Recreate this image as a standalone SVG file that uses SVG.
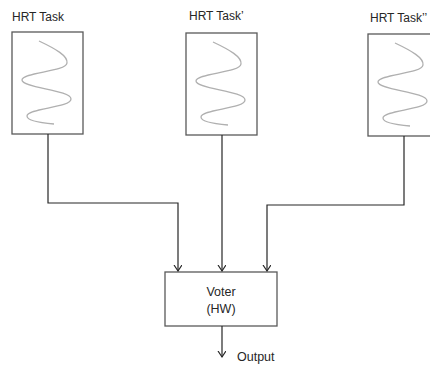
<svg xmlns="http://www.w3.org/2000/svg" width="430" height="365" viewBox="0 0 430 365">
<style>
.box{fill:#fff;stroke:#595959;stroke-width:1.3}
.wave{fill:none;stroke:#b0b0b0;stroke-width:1.3}
.lbl{font-family:"Liberation Sans",Arial,sans-serif;font-size:12px;fill:#262626}
.txt{font-family:"Liberation Sans",Arial,sans-serif;font-size:12.5px;fill:#262626}
.conn{fill:none;stroke:#262626;stroke-width:1.2}
</style>
<defs>
<marker id="arr" markerUnits="userSpaceOnUse" markerWidth="10" markerHeight="10" refX="6" refY="4" orient="auto" viewBox="0 0 10 10">
<path d="M0,0 L6,4 L0,8" fill="none" stroke="#262626" stroke-width="1.2"/>
</marker>
<path id="wv" d="M27,9 C44,17 56,24 55,31 C54,40 10,40 10,48 C10,56 59,58 59,67 C59,76 15,76 15,84 C15,89 30,91 42,92"/>
</defs>
<g id="task1">
<rect class="box" x="12" y="32" width="71" height="102"/>
<use href="#wv" class="wave" x="12" y="32"/>
<text class="lbl" x="12" y="21">HRT Task</text>
</g>
<g id="task2">
<rect class="box" x="186" y="33" width="71" height="102"/>
<use href="#wv" class="wave" x="186" y="33"/>
<text class="lbl" x="189" y="20">HRT Task’</text>
</g>
<g id="task3">
<rect class="box" x="368" y="34" width="71" height="102"/>
<use href="#wv" class="wave" x="368" y="34"/>
<text class="lbl" x="370" y="22">HRT Task’’</text>
</g>
<g id="voter">
<rect class="box" x="165" y="272" width="112" height="54"/>
<text class="txt" x="221" y="296" text-anchor="middle">Voter</text>
<text class="txt" x="221" y="313" text-anchor="middle">(HW)</text>
</g>
<g id="connectors">
<path class="conn" d="M48,134 V203 H178 V271" marker-end="url(#arr)"/>
<path class="conn" d="M222,135 V271" marker-end="url(#arr)"/>
<path class="conn" d="M404,136 V205 H267 V271" marker-end="url(#arr)"/>
<path class="conn" d="M222,326 V357" marker-end="url(#arr)"/>
</g>
<text class="txt" x="237" y="361">Output</text>
</svg>
